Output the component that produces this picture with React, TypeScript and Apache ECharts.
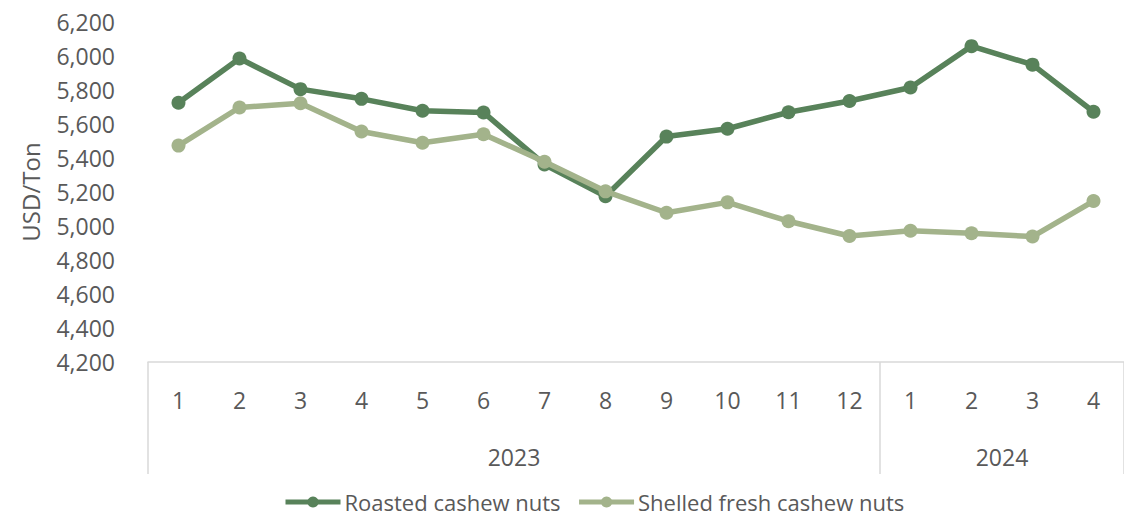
import React, { useEffect, useRef } from "react";
import * as echarts from "echarts";

const months = ["1", "2", "3", "4", "5", "6", "7", "8", "9", "10", "11", "12", "1", "2", "3", "4"];
const years = ["2023", "2024"];
const yearMonthCounts = [12, 4];
const roasted = [5725, 5985, 5805, 5748, 5678, 5668, 5362, 5175, 5526, 5572, 5669, 5735, 5815, 6058, 5949, 5672];
const shelled = [5473, 5697, 5722, 5556, 5490, 5540, 5378, 5204, 5078, 5139, 5028, 4941, 4972, 4957, 4938, 5147];
const seriesNames = ["Roasted cashew nuts", "Shelled fresh cashew nuts"];
const colors = ["#58825a", "#a3b38b"];

const FONT = "Open Sans";
const TEXT = "#595959";
const AXIS = "#d9d9d9";
const FS = 23;

export default function App() {
  const ref = useRef<HTMLDivElement>(null);
  useEffect(() => {
    if (!ref.current) return;
    const chart = echarts.init(ref.current, null, { renderer: "svg" });
    const boundaries: number[] = [0];
    const centers: number[] = [];
    let acc = 0;
    yearMonthCounts.forEach((c) => {
      centers.push(acc + c / 2);
      acc += c;
      boundaries.push(acc);
    });
    const total = acc;
    chart.setOption({
      animation: false,
      textStyle: { fontFamily: FONT },
      grid: { left: 148, top: 22, width: 979, height: 340, containLabel: false },
      legend: {
        data: seriesNames,
        left: 283,
        top: 490,
        padding: 0,
        itemWidth: 55,
        itemHeight: 14,
        itemGap: 16,
        lineStyle: { width: 5 },
        textStyle: { color: TEXT, fontSize: 22, fontFamily: FONT, lineHeight: 24, padding: [0, 0, 0, -1] },
      },
      xAxis: [
        {
          type: "category",
          data: months,
          boundaryGap: true,
          position: "bottom",
          axisLine: { show: true, lineStyle: { color: AXIS, width: 1.5 } },
          axisTick: { show: false },
          axisLabel: { color: TEXT, fontSize: FS, fontFamily: FONT, margin: 26, interval: 0 },
          splitLine: { show: false },
        },
        {
          type: "value",
          min: 0,
          max: total,
          position: "bottom",
          axisLine: { show: false },
          axisTick: {
            show: true,
            customValues: boundaries,
            length: 112,
            lineStyle: { color: AXIS, width: 1.5 },
          },
          axisLabel: {
            show: true,
            customValues: centers,
            formatter: (v: number) => {
              const i = centers.findIndex((c) => Math.abs(c - v) < 1e-6);
              return i >= 0 ? years[i] : "";
            },
            color: TEXT,
            fontSize: FS,
            fontFamily: FONT,
            margin: 83,
          },
          splitLine: { show: false },
        },
      ],
      yAxis: {
        type: "value",
        min: 4200,
        max: 6200,
        interval: 200,
        name: "USD/Ton",
        nameLocation: "middle",
        nameGap: 106,
        nameTextStyle: { color: TEXT, fontSize: 24, fontFamily: FONT },
        axisLine: { show: false },
        axisTick: { show: false },
        splitLine: { show: false },
        axisLabel: {
          color: TEXT,
          fontSize: FS,
          fontFamily: FONT,
          margin: 33,
          formatter: (v: number) => v.toLocaleString("en-US"),
        },
      },
      series: [
        {
          name: seriesNames[0],
          type: "line",
          data: roasted,
          xAxisIndex: 0,
          symbol: "circle",
          symbolSize: 14,
          lineStyle: { color: colors[0], width: 5.5 },
          itemStyle: { color: colors[0] },
          z: 2,
        },
        {
          name: seriesNames[1],
          type: "line",
          data: shelled,
          xAxisIndex: 0,
          symbol: "circle",
          symbolSize: 14,
          lineStyle: { color: colors[1], width: 5.5 },
          itemStyle: { color: colors[1] },
          z: 3,
        },
      ],
    });
    return () => chart.dispose();
  }, []);
  return (
    <div
      ref={ref}
      style={{ position: "fixed", left: 0, top: 0, width: 1124, height: 518, background: "#fff" }}
    />
  );
}
